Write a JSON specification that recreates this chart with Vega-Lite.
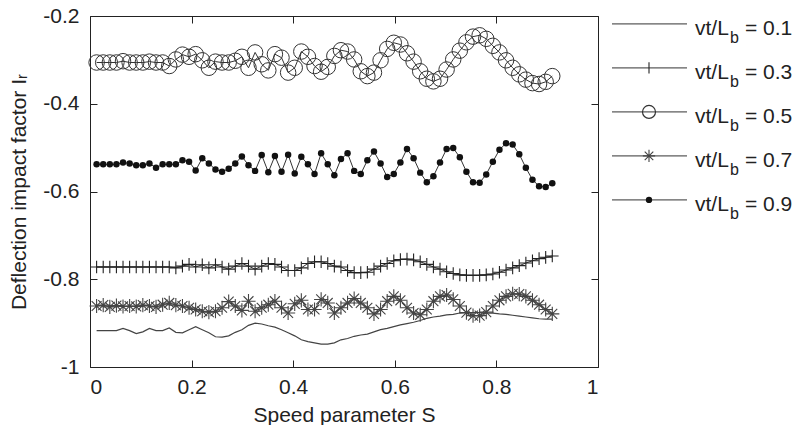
{
  "$schema": "https://vega.github.io/schema/vega-lite/v6.json",
  "padding": {"left": 8, "top": 5, "right": 0, "bottom": 0},
  "background": "white",
  "config": {
    "font": "Liberation Sans",
    "view": {"stroke": null},
    "concat": {"spacing": 10},
    "axis": {
      "labelFont": "Liberation Sans", "titleFont": "Liberation Sans",
      "labelFontSize": 21, "titleFontSize": 21, "titleFontWeight": "normal",
      "labelColor": "#222", "titleColor": "#222", "domainColor": "#222", "tickColor": "#222",
      "grid": false, "tickSize": 7, "domainWidth": 1, "tickWidth": 1
    }
  },
  "datasets": {
    "s01": [
      {"s":0.013,"v":-0.917},{"s":0.026,"v":-0.917},{"s":0.039,"v":-0.917},{"s":0.052,"v":-0.917},{"s":0.065,"v":-0.912},
      {"s":0.078,"v":-0.917},{"s":0.091,"v":-0.924},{"s":0.104,"v":-0.920},{"s":0.117,"v":-0.912},{"s":0.13,"v":-0.917},
      {"s":0.143,"v":-0.917},{"s":0.156,"v":-0.911},{"s":0.169,"v":-0.921},{"s":0.182,"v":-0.922},{"s":0.195,"v":-0.915},
      {"s":0.208,"v":-0.908},{"s":0.221,"v":-0.915},{"s":0.234,"v":-0.922},{"s":0.247,"v":-0.931},{"s":0.26,"v":-0.932},
      {"s":0.273,"v":-0.929},{"s":0.286,"v":-0.921},{"s":0.299,"v":-0.915},{"s":0.312,"v":-0.905},{"s":0.325,"v":-0.900},
      {"s":0.338,"v":-0.902},{"s":0.351,"v":-0.906},{"s":0.364,"v":-0.909},{"s":0.377,"v":-0.915},{"s":0.39,"v":-0.922},
      {"s":0.403,"v":-0.929},{"s":0.416,"v":-0.938},{"s":0.429,"v":-0.942},{"s":0.442,"v":-0.945},{"s":0.455,"v":-0.948},
      {"s":0.468,"v":-0.948},{"s":0.481,"v":-0.945},{"s":0.494,"v":-0.938},{"s":0.507,"v":-0.935},{"s":0.52,"v":-0.930},
      {"s":0.533,"v":-0.927},{"s":0.546,"v":-0.925},{"s":0.559,"v":-0.920},{"s":0.572,"v":-0.915},{"s":0.585,"v":-0.912},
      {"s":0.598,"v":-0.908},{"s":0.611,"v":-0.904},{"s":0.624,"v":-0.901},{"s":0.637,"v":-0.898},{"s":0.65,"v":-0.894},
      {"s":0.663,"v":-0.889},{"s":0.676,"v":-0.886},{"s":0.689,"v":-0.884},{"s":0.702,"v":-0.881},{"s":0.715,"v":-0.880},
      {"s":0.728,"v":-0.877},{"s":0.741,"v":-0.876},{"s":0.754,"v":-0.876},{"s":0.767,"v":-0.876},{"s":0.78,"v":-0.877},
      {"s":0.793,"v":-0.877},{"s":0.806,"v":-0.879},{"s":0.819,"v":-0.880},{"s":0.832,"v":-0.882},{"s":0.845,"v":-0.884},
      {"s":0.858,"v":-0.886},{"s":0.871,"v":-0.888},{"s":0.884,"v":-0.890},{"s":0.897,"v":-0.891},{"s":0.91,"v":-0.891}
    ],
    "s03": [
      {"s":0.013,"v":-0.772},{"s":0.026,"v":-0.772},{"s":0.039,"v":-0.772},{"s":0.052,"v":-0.772},{"s":0.065,"v":-0.772},
      {"s":0.078,"v":-0.772},{"s":0.091,"v":-0.772},{"s":0.104,"v":-0.772},{"s":0.117,"v":-0.772},{"s":0.13,"v":-0.772},
      {"s":0.143,"v":-0.772},{"s":0.156,"v":-0.772},{"s":0.169,"v":-0.774},{"s":0.182,"v":-0.770},{"s":0.195,"v":-0.766},
      {"s":0.208,"v":-0.772},{"s":0.221,"v":-0.767},{"s":0.234,"v":-0.774},{"s":0.247,"v":-0.767},{"s":0.26,"v":-0.772},
      {"s":0.273,"v":-0.777},{"s":0.286,"v":-0.770},{"s":0.299,"v":-0.764},{"s":0.312,"v":-0.770},{"s":0.325,"v":-0.777},
      {"s":0.338,"v":-0.770},{"s":0.351,"v":-0.764},{"s":0.364,"v":-0.766},{"s":0.377,"v":-0.772},{"s":0.39,"v":-0.780},
      {"s":0.403,"v":-0.780},{"s":0.416,"v":-0.774},{"s":0.429,"v":-0.764},{"s":0.442,"v":-0.760},{"s":0.455,"v":-0.760},
      {"s":0.468,"v":-0.764},{"s":0.481,"v":-0.770},{"s":0.494,"v":-0.772},{"s":0.507,"v":-0.780},{"s":0.52,"v":-0.785},
      {"s":0.533,"v":-0.785},{"s":0.546,"v":-0.784},{"s":0.559,"v":-0.777},{"s":0.572,"v":-0.770},{"s":0.585,"v":-0.764},
      {"s":0.598,"v":-0.758},{"s":0.611,"v":-0.755},{"s":0.624,"v":-0.754},{"s":0.637,"v":-0.756},{"s":0.65,"v":-0.760},
      {"s":0.663,"v":-0.766},{"s":0.676,"v":-0.772},{"s":0.689,"v":-0.777},{"s":0.702,"v":-0.783},{"s":0.715,"v":-0.787},
      {"s":0.728,"v":-0.790},{"s":0.741,"v":-0.791},{"s":0.754,"v":-0.791},{"s":0.767,"v":-0.791},{"s":0.78,"v":-0.790},
      {"s":0.793,"v":-0.788},{"s":0.806,"v":-0.784},{"s":0.819,"v":-0.779},{"s":0.832,"v":-0.774},{"s":0.845,"v":-0.769},
      {"s":0.858,"v":-0.763},{"s":0.871,"v":-0.758},{"s":0.884,"v":-0.753},{"s":0.897,"v":-0.750},{"s":0.91,"v":-0.747}
    ],
    "s05": [
      {"s":0.013,"v":-0.306},{"s":0.026,"v":-0.306},{"s":0.039,"v":-0.306},{"s":0.052,"v":-0.306},{"s":0.065,"v":-0.303},
      {"s":0.078,"v":-0.306},{"s":0.091,"v":-0.306},{"s":0.104,"v":-0.306},{"s":0.117,"v":-0.304},{"s":0.13,"v":-0.306},
      {"s":0.143,"v":-0.306},{"s":0.156,"v":-0.314},{"s":0.169,"v":-0.299},{"s":0.182,"v":-0.288},{"s":0.195,"v":-0.293},
      {"s":0.208,"v":-0.287},{"s":0.221,"v":-0.301},{"s":0.234,"v":-0.318},{"s":0.247,"v":-0.304},{"s":0.26,"v":-0.306},
      {"s":0.273,"v":-0.306},{"s":0.286,"v":-0.302},{"s":0.299,"v":-0.293},{"s":0.312,"v":-0.318},{"s":0.325,"v":-0.283},
      {"s":0.338,"v":-0.310},{"s":0.351,"v":-0.324},{"s":0.364,"v":-0.287},{"s":0.377,"v":-0.295},{"s":0.39,"v":-0.329},
      {"s":0.403,"v":-0.318},{"s":0.416,"v":-0.281},{"s":0.429,"v":-0.293},{"s":0.442,"v":-0.314},{"s":0.455,"v":-0.327},
      {"s":0.468,"v":-0.316},{"s":0.481,"v":-0.291},{"s":0.494,"v":-0.278},{"s":0.507,"v":-0.281},{"s":0.52,"v":-0.299},
      {"s":0.533,"v":-0.326},{"s":0.546,"v":-0.337},{"s":0.559,"v":-0.329},{"s":0.572,"v":-0.301},{"s":0.585,"v":-0.275},
      {"s":0.598,"v":-0.261},{"s":0.611,"v":-0.265},{"s":0.624,"v":-0.285},{"s":0.637,"v":-0.304},{"s":0.65,"v":-0.326},
      {"s":0.663,"v":-0.343},{"s":0.676,"v":-0.349},{"s":0.689,"v":-0.343},{"s":0.702,"v":-0.322},{"s":0.715,"v":-0.299},
      {"s":0.728,"v":-0.279},{"s":0.741,"v":-0.260},{"s":0.754,"v":-0.247},{"s":0.767,"v":-0.244},{"s":0.78,"v":-0.252},
      {"s":0.793,"v":-0.268},{"s":0.806,"v":-0.283},{"s":0.819,"v":-0.301},{"s":0.832,"v":-0.318},{"s":0.845,"v":-0.333},
      {"s":0.858,"v":-0.345},{"s":0.871,"v":-0.353},{"s":0.884,"v":-0.355},{"s":0.897,"v":-0.350},{"s":0.91,"v":-0.337}
    ],
    "s07": [
      {"s":0.013,"v":-0.861},{"s":0.026,"v":-0.859},{"s":0.039,"v":-0.863},{"s":0.052,"v":-0.860},{"s":0.065,"v":-0.862},
      {"s":0.078,"v":-0.861},{"s":0.091,"v":-0.862},{"s":0.104,"v":-0.859},{"s":0.117,"v":-0.861},{"s":0.13,"v":-0.863},
      {"s":0.143,"v":-0.858},{"s":0.156,"v":-0.854},{"s":0.169,"v":-0.859},{"s":0.182,"v":-0.861},{"s":0.195,"v":-0.865},
      {"s":0.208,"v":-0.869},{"s":0.221,"v":-0.873},{"s":0.234,"v":-0.875},{"s":0.247,"v":-0.873},{"s":0.26,"v":-0.865},
      {"s":0.273,"v":-0.851},{"s":0.286,"v":-0.861},{"s":0.299,"v":-0.871},{"s":0.312,"v":-0.850},{"s":0.325,"v":-0.873},
      {"s":0.338,"v":-0.865},{"s":0.351,"v":-0.858},{"s":0.364,"v":-0.850},{"s":0.377,"v":-0.865},{"s":0.39,"v":-0.877},
      {"s":0.403,"v":-0.856},{"s":0.416,"v":-0.848},{"s":0.429,"v":-0.869},{"s":0.442,"v":-0.869},{"s":0.455,"v":-0.846},
      {"s":0.468,"v":-0.854},{"s":0.481,"v":-0.877},{"s":0.494,"v":-0.865},{"s":0.507,"v":-0.854},{"s":0.52,"v":-0.844},
      {"s":0.533,"v":-0.854},{"s":0.546,"v":-0.865},{"s":0.559,"v":-0.879},{"s":0.572,"v":-0.869},{"s":0.585,"v":-0.850},
      {"s":0.598,"v":-0.839},{"s":0.611,"v":-0.848},{"s":0.624,"v":-0.865},{"s":0.637,"v":-0.877},{"s":0.65,"v":-0.881},
      {"s":0.663,"v":-0.869},{"s":0.676,"v":-0.850},{"s":0.689,"v":-0.839},{"s":0.702,"v":-0.836},{"s":0.715,"v":-0.846},
      {"s":0.728,"v":-0.861},{"s":0.741,"v":-0.876},{"s":0.754,"v":-0.883},{"s":0.767,"v":-0.883},{"s":0.78,"v":-0.875},
      {"s":0.793,"v":-0.861},{"s":0.806,"v":-0.848},{"s":0.819,"v":-0.839},{"s":0.832,"v":-0.833},{"s":0.845,"v":-0.834},
      {"s":0.858,"v":-0.839},{"s":0.871,"v":-0.848},{"s":0.884,"v":-0.858},{"s":0.897,"v":-0.869},{"s":0.91,"v":-0.879}
    ],
    "s09": [
      {"s":0.013,"v":-0.538},{"s":0.026,"v":-0.538},{"s":0.039,"v":-0.538},{"s":0.052,"v":-0.538},{"s":0.065,"v":-0.534},
      {"s":0.078,"v":-0.536},{"s":0.091,"v":-0.540},{"s":0.104,"v":-0.540},{"s":0.117,"v":-0.536},{"s":0.13,"v":-0.546},
      {"s":0.143,"v":-0.538},{"s":0.156,"v":-0.538},{"s":0.169,"v":-0.538},{"s":0.182,"v":-0.529},{"s":0.195,"v":-0.532},
      {"s":0.208,"v":-0.552},{"s":0.221,"v":-0.524},{"s":0.234,"v":-0.536},{"s":0.247,"v":-0.550},{"s":0.26,"v":-0.555},
      {"s":0.273,"v":-0.548},{"s":0.286,"v":-0.536},{"s":0.299,"v":-0.520},{"s":0.312,"v":-0.540},{"s":0.325,"v":-0.553},
      {"s":0.338,"v":-0.517},{"s":0.351,"v":-0.556},{"s":0.364,"v":-0.519},{"s":0.377,"v":-0.555},{"s":0.39,"v":-0.516},
      {"s":0.403,"v":-0.559},{"s":0.416,"v":-0.521},{"s":0.429,"v":-0.538},{"s":0.442,"v":-0.560},{"s":0.455,"v":-0.513},
      {"s":0.468,"v":-0.538},{"s":0.481,"v":-0.563},{"s":0.494,"v":-0.526},{"s":0.507,"v":-0.513},{"s":0.52,"v":-0.553},
      {"s":0.533,"v":-0.560},{"s":0.546,"v":-0.529},{"s":0.559,"v":-0.509},{"s":0.572,"v":-0.536},{"s":0.585,"v":-0.567},
      {"s":0.598,"v":-0.560},{"s":0.611,"v":-0.534},{"s":0.624,"v":-0.503},{"s":0.637,"v":-0.524},{"s":0.65,"v":-0.557},
      {"s":0.663,"v":-0.579},{"s":0.676,"v":-0.565},{"s":0.689,"v":-0.534},{"s":0.702,"v":-0.503},{"s":0.715,"v":-0.501},
      {"s":0.728,"v":-0.522},{"s":0.741,"v":-0.555},{"s":0.754,"v":-0.579},{"s":0.767,"v":-0.580},{"s":0.78,"v":-0.561},
      {"s":0.793,"v":-0.532},{"s":0.806,"v":-0.505},{"s":0.819,"v":-0.490},{"s":0.832,"v":-0.493},{"s":0.845,"v":-0.515},
      {"s":0.858,"v":-0.546},{"s":0.871,"v":-0.573},{"s":0.884,"v":-0.588},{"s":0.897,"v":-0.590},{"s":0.91,"v":-0.581}
    ],
    "leg": [
      {"r":"0.1","lab":"= 0.1"},
      {"r":"0.3","lab":"= 0.3"},
      {"r":"0.5","lab":"= 0.5"},
      {"r":"0.7","lab":"= 0.7"},
      {"r":"0.9","lab":"= 0.9"}
    ]
  },
  "hconcat": [
    {
      "width": 508,
      "height": 351,
      "layer": [
        {
          "encoding": {
            "x": {"field": "s", "type": "quantitative",
                  "scale": {"domain": [0, 1], "nice": false, "zero": false},
                  "axis": {"orient": "bottom", "values": [0, 0.2, 0.4, 0.6, 0.8, 1], "title": "Speed parameter S", "titlePadding": 7,
                           "ticks": false, "labelPadding": 9,
                           "labelExpr": "datum.value == 0 ? '0' : datum.value == 1 ? '1' : format(datum.value, '.1f')"}},
            "y": {"field": "v", "type": "quantitative",
                  "scale": {"domain": [-1, -0.2], "nice": false, "zero": false},
                  "axis": {"orient": "left", "values": [-1, -0.8, -0.6, -0.4, -0.2], "title": "Deflection impact factor Iᵣ", "titlePadding": 13,
                           "ticks": false, "labelPadding": 11,
                           "labelExpr": "datum.value == -1 ? '-1' : '-' + format(-datum.value, '.1f')"}}
          },
          "layer": [
            {"data": {"name": "s01"}, "mark": {"type": "line", "color": "#444", "strokeWidth": 1.2}},
            {"data": {"name": "s03"}, "layer": [
              {"mark": {"type": "line", "color": "#333", "strokeWidth": 1}},
              {"mark": {"type": "point", "shape": "M-1,0H1M0,-1V1", "size": 160, "filled": false, "color": "#222", "strokeWidth": 1.1, "opacity": 1}}
            ]},
            {"data": {"name": "s07"}, "layer": [
              {"mark": {"type": "line", "color": "#333", "strokeWidth": 1}},
              {"mark": {"type": "point", "shape": "M-1,0H1M0,-1V1M-0.7,-0.7L0.7,0.7M-0.7,0.7L0.7,-0.7", "size": 200, "filled": false, "color": "#444", "strokeWidth": 1.1, "opacity": 1}}
            ]},
            {"data": {"name": "s05"}, "layer": [
              {"mark": {"type": "line", "color": "#333", "strokeWidth": 1}},
              {"mark": {"type": "point", "shape": "circle", "size": 240, "filled": false, "color": "#333", "strokeWidth": 1, "opacity": 1}}
            ]},
            {"data": {"name": "s09"}, "layer": [
              {"mark": {"type": "line", "color": "#333", "strokeWidth": 1}},
              {"mark": {"type": "point", "shape": "circle", "size": 42, "filled": true, "color": "#111", "opacity": 1}}
            ]}
          ]
        },
        {
          "data": {"name": "s01"},
          "mark": {"type": "point", "opacity": 0},
          "encoding": {
            "x": {"field": "s", "type": "quantitative",
                  "axis": {"orient": "top", "offset": -351, "values": [0, 0.2, 0.4, 0.6, 0.8, 1], "labels": false, "domain": false, "title": null}},
            "y": {"field": "v", "type": "quantitative",
                  "axis": {"orient": "right", "offset": -508, "values": [-1, -0.8, -0.6, -0.4, -0.2], "labels": false, "domain": false, "title": null}}
          }
        },
        {
          "data": {"name": "s01"},
          "mark": {"type": "point", "opacity": 0},
          "encoding": {
            "x": {"field": "s", "type": "quantitative",
                  "axis": {"orient": "bottom", "offset": -351, "values": [0, 0.2, 0.4, 0.6, 0.8, 1], "labels": false, "domain": true, "title": null}},
            "y": {"field": "v", "type": "quantitative",
                  "axis": {"orient": "left", "offset": -508, "values": [-1, -0.8, -0.6, -0.4, -0.2], "labels": false, "domain": true, "title": null}}
          }
        }
      ],
      "resolve": {"axis": {"x": "independent", "y": "independent"}}
    },
    {
      "width": 186,
      "height": {"step": 44},
      "data": {"name": "leg"},
      "encoding": {
        "y": {"field": "r", "type": "ordinal", "sort": null, "scale": {"type": "point", "padding": 0.18}, "axis": null}
      },
      "layer": [
        {"mark": {"type": "rule", "color": "#333", "strokeWidth": 1},
         "encoding": {"x": {"datum": 3, "type": "quantitative", "scale": {"domain": [0, 186], "nice": false}, "axis": null}, "x2": {"datum": 78}}},
        {"transform": [{"filter": "datum.r == '0.3'"}],
         "mark": {"type": "point", "shape": "M0,-1V1", "size": 130, "filled": false, "color": "#222", "strokeWidth": 1.1, "opacity": 1},
         "encoding": {"x": {"datum": 40, "type": "quantitative"}}},
        {"transform": [{"filter": "datum.r == '0.5'"}],
         "mark": {"type": "point", "shape": "circle", "size": 169, "filled": false, "color": "#333", "strokeWidth": 1.2, "opacity": 1},
         "encoding": {"x": {"datum": 40, "type": "quantitative"}}},
        {"transform": [{"filter": "datum.r == '0.7'"}],
         "mark": {"type": "point", "shape": "M-1,0H1M0,-1V1M-0.7,-0.7L0.7,0.7M-0.7,0.7L0.7,-0.7", "size": 150, "filled": false, "color": "#444", "strokeWidth": 1.1, "opacity": 1},
         "encoding": {"x": {"datum": 40, "type": "quantitative"}}},
        {"transform": [{"filter": "datum.r == '0.9'"}],
         "mark": {"type": "point", "shape": "circle", "size": 40, "filled": true, "color": "#111", "opacity": 1},
         "encoding": {"x": {"datum": 40, "type": "quantitative"}}},
        {"mark": {"type": "text", "align": "left", "baseline": "alphabetic", "dy": 11, "fontSize": 21, "color": "#222", "font": "Liberation Sans"},
         "encoding": {"x": {"datum": 86, "type": "quantitative"}, "text": {"value": "vt/L"}}},
        {"mark": {"type": "text", "align": "left", "baseline": "alphabetic", "dy": 19, "fontSize": 16, "color": "#222", "font": "Liberation Sans"},
         "encoding": {"x": {"datum": 121, "type": "quantitative"}, "text": {"value": "b"}}},
        {"mark": {"type": "text", "align": "left", "baseline": "alphabetic", "dy": 11, "fontSize": 21, "color": "#222", "font": "Liberation Sans"},
         "encoding": {"x": {"datum": 136, "type": "quantitative"}, "text": {"field": "lab"}}}
      ]
    }
  ]
}
